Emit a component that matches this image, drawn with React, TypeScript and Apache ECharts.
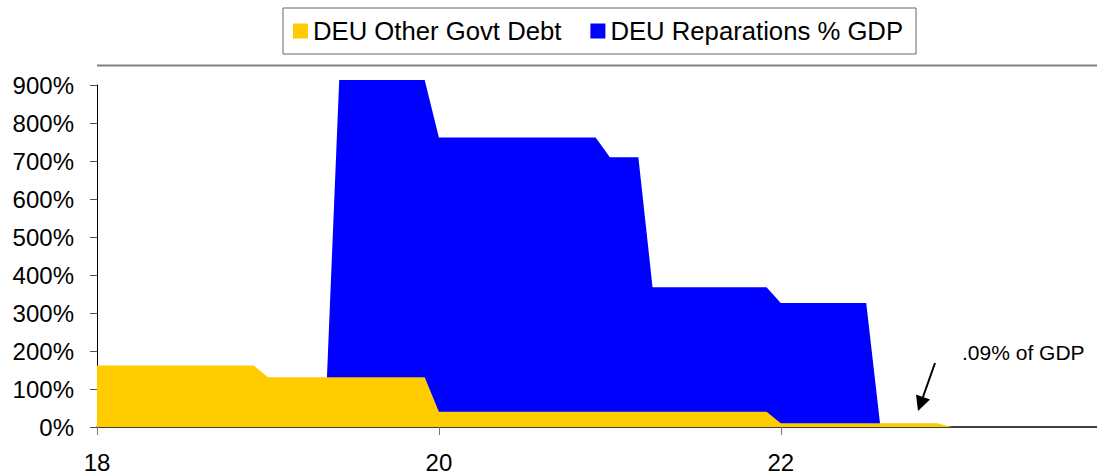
import React, { useEffect, useRef } from "react";
import * as echarts from "echarts";

// Breakpoints: [year (19xx), % of GDP]
const otherGovtDebt: [number, number][] = [
  [18, 162], [18.917, 162], [19, 131], [19.917, 131], [20, 40],
  [21.917, 40], [22, 10], [22.917, 10], [23, 0], [23.85, 0],
];
const reparations: [number, number][] = [
  [19.333, 0], [19.417, 913], [19.917, 913], [20, 762], [20.917, 762],
  [21, 710], [21.167, 710], [21.25, 368], [21.917, 368], [22, 326],
  [22.5, 326], [22.583, 0],
];
const seriesNames = ["DEU Other Govt Debt", "DEU Reparations % GDP"];
const annotationText = ".09% of GDP";
const FONT = 'Arial, "Liberation Sans", sans-serif';

export default function App() {
  const ref = useRef<HTMLDivElement>(null);
  useEffect(() => {
    if (!ref.current) return;
    const chart = echarts.init(ref.current, null, { renderer: "svg" });
    chart.setOption({
      animation: false,
      backgroundColor: "#ffffff",
      textStyle: { fontFamily: FONT },
      grid: { left: 97, right: 0, top: 85, bottom: 47, containLabel: false },
      legend: {
        data: seriesNames,
        left: 283,
        top: 8,
        icon: "rect",
        itemWidth: 15,
        itemHeight: 15,
        itemGap: 29,
        padding: [10, 13, 10, 10],
        borderColor: "#666666",
        borderWidth: 1,
        textStyle: { fontSize: 25.7, color: "#000", fontFamily: FONT },
      },
      xAxis: {
        type: "value",
        min: 18,
        max: 23.85,
        interval: 2,
        splitLine: { show: false },
        axisLine: { show: true, lineStyle: { color: "#000", width: 1.5 } },
        axisTick: { show: true, length: 8, lineStyle: { color: "#777" } },
        axisLabel: {
          margin: 23,
          fontSize: 24,
          color: "#000",
          fontFamily: FONT,
          showMaxLabel: false,
          formatter: (v: number) => (Number.isInteger(v) ? String(v) : ""),
        },
      },
      yAxis: {
        type: "value",
        min: 0,
        max: 900,
        interval: 100,
        splitLine: { show: false },
        axisLine: { show: true, lineStyle: { color: "#000", width: 1 } },
        axisTick: { show: true, length: 7, lineStyle: { color: "#555" } },
        axisLabel: {
          margin: 23,
          fontSize: 24,
          color: "#000",
          fontFamily: FONT,
          formatter: (v: number) => `${v}%`,
        },
      },
      series: [
        {
          name: seriesNames[0],
          type: "line",
          data: otherGovtDebt,
          showSymbol: false,
          clip: false,
          z: 3,
          itemStyle: { color: "#FFCC00" },
          lineStyle: { width: 0, color: "#FFCC00" },
          areaStyle: { color: "#FFCC00", opacity: 1 },
        },
        {
          name: seriesNames[1],
          type: "line",
          data: reparations,
          showSymbol: false,
          clip: false,
          z: 2,
          itemStyle: { color: "#0000FF" },
          lineStyle: { width: 0, color: "#0000FF" },
          areaStyle: { color: "#0000FF", opacity: 1 },
        },
      ],
      graphic: [
        {
          type: "line",
          shape: { x1: 97, y1: 65.5, x2: 1097, y2: 65.5 },
          style: { stroke: "#808080", lineWidth: 2 },
        },
        {
          type: "text",
          x: 962,
          y: 352,
          style: {
            text: annotationText,
            fontSize: 21,
            fontFamily: FONT,
            fill: "#000",
            textVerticalAlign: "middle",
            verticalAlign: "middle",
          },
        },
        {
          type: "line",
          shape: { x1: 935, y1: 363, x2: 923, y2: 397 },
          style: { stroke: "#000", lineWidth: 2 },
        },
        {
          type: "polygon",
          shape: { points: [[918, 411], [916, 394.5], [930, 399.5]] },
          style: { fill: "#000" },
        },
      ],
    });
    return () => chart.dispose();
  }, []);
  return (
    <div
      ref={ref}
      style={{ position: "absolute", left: 0, top: 0, width: 1097, height: 474 }}
    />
  );
}
